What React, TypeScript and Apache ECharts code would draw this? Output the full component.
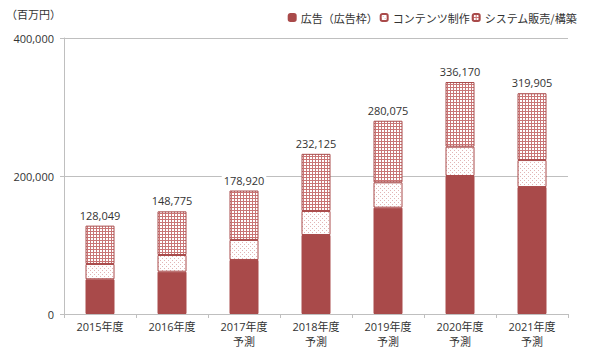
import React, { useEffect, useRef } from "react";
import * as echarts from "echarts";

const categories = [
  "2015年度",
  "2016年度",
  "2017年度\n予測",
  "2018年度\n予測",
  "2019年度\n予測",
  "2020年度\n予測",
  "2021年度\n予測",
];
const adValues = [50300, 61300, 78300, 114500, 154100, 200000, 184000];
const contentValues = [22200, 24200, 29000, 34800, 36700, 42500, 39100];
const systemValues = [55549, 63275, 71620, 82825, 89275, 93670, 96805];
const totals = [128049, 148775, 178920, 232125, 280075, 336170, 319905];
const seriesNames = ["広告（広告枠）", "コンテンツ制作", "システム販売/構築"];
const yTicks = [0, 200000, 400000];

const RED = "#A94A4A";
const FONT = "'Open Sans', 'Noto Sans CJK JP', sans-serif";
const CJK = "'Noto Sans CJK JP', sans-serif";

function makeGrid() {
  const c = document.createElement("canvas");
  c.width = 3;
  c.height = 3;
  const ctx = c.getContext("2d")!;
  ctx.fillStyle = "#ffffff";
  ctx.fillRect(0, 0, 3, 3);
  ctx.fillStyle = "#C97575";
  ctx.fillRect(0, 0, 3, 1);
  ctx.fillRect(0, 0, 1, 3);
  return c;
}

function makeDots() {
  const c = document.createElement("canvas");
  c.width = 4;
  c.height = 4;
  const ctx = c.getContext("2d")!;
  ctx.fillStyle = "#ffffff";
  ctx.fillRect(0, 0, 4, 4);
  ctx.fillStyle = "#E2B4B4";
  ctx.fillRect(0, 0, 1, 1);
  ctx.fillRect(2, 2, 1, 1);
  return c;
}

export default function App() {
  const ref = useRef<HTMLDivElement>(null);
  useEffect(() => {
    if (!ref.current) return;
    document.body.style.margin = "0";
    const chart = echarts.init(ref.current, undefined, { renderer: "svg" });
    const grid = makeGrid();
    const dots = makeDots();
    chart.setOption({
      animation: false,
      backgroundColor: "#ffffff",
      textStyle: { fontFamily: FONT },
      graphic: [
        {
          type: "text",
          left: 6,
          top: 8,
          style: { text: "（百万円）", fontSize: 11, fontFamily: CJK, fill: "#333" },
        },
      ],
      legend: {
        right: 8,
        top: 7,
        itemWidth: 7,
        itemHeight: 7,
        itemGap: 2,
        textStyle: { fontSize: 11, fontFamily: CJK, color: "#333" },
        data: seriesNames,
      },
      grid: { left: 64, right: 22, top: 38, bottom: 39, containLabel: false },
      xAxis: {
        type: "category",
        data: categories,
        axisLine: { lineStyle: { color: "#BFBFBF" } },
        axisTick: { show: true, length: 4, lineStyle: { color: "#BFBFBF" } },
        axisLabel: {
          color: "#333",
          fontSize: 11,
          fontFamily: FONT,
          margin: 5,
          lineHeight: 15,
          interval: 0,
        },
      },
      yAxis: {
        type: "value",
        min: yTicks[0],
        max: yTicks[yTicks.length - 1],
        interval: yTicks[1] - yTicks[0],
        axisLine: { show: true, lineStyle: { color: "#BFBFBF" } },
        axisTick: { show: true, length: 4, lineStyle: { color: "#BFBFBF" } },
        splitLine: { lineStyle: { color: "#BFBFBF" } },
        axisLabel: {
          color: "#333",
          fontSize: 11,
          fontFamily: FONT,
          margin: 10,
          formatter: (v: number) => v.toLocaleString("en-US"),
        },
      },
      series: [
        {
          name: seriesNames[0],
          type: "bar",
          stack: "total",
          barWidth: 29,
          data: adValues,
          itemStyle: { color: RED, borderColor: RED, borderWidth: 1 },
        },
        {
          name: seriesNames[1],
          type: "bar",
          stack: "total",
          barWidth: 29,
          data: contentValues,
          itemStyle: {
            color: { image: dots, repeat: "repeat", imageWidth: 4, imageHeight: 4 },
            borderColor: RED,
            borderWidth: 1,
          },
        },
        {
          name: seriesNames[2],
          type: "bar",
          stack: "total",
          barWidth: 29,
          data: systemValues,
          itemStyle: {
            color: { image: grid, repeat: "repeat", imageWidth: 3, imageHeight: 3 },
            borderColor: RED,
            borderWidth: 1,
          },
          label: {
            show: true,
            position: "top",
            distance: 5,
            color: "#333",
            fontSize: 11,
            fontFamily: FONT,
            backgroundColor: "#ffffff",
            padding: [0, 2],
            formatter: (p: any) => totals[p.dataIndex].toLocaleString("en-US"),
          },
        },
      ],
    });
    return () => chart.dispose();
  }, []);
  return <div ref={ref} style={{ width: 590, height: 353 }} />;
}
